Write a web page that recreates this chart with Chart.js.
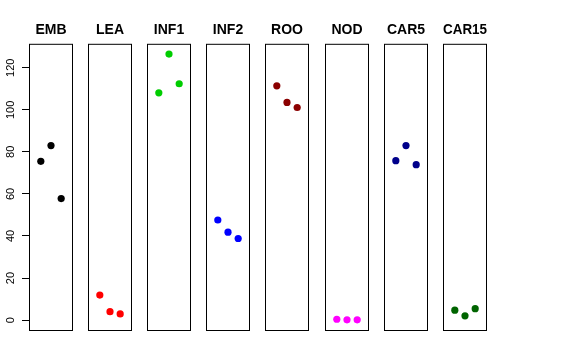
<!DOCTYPE html>
<html>
<head>
<meta charset="utf-8">
<script src="https://cdn.jsdelivr.net/npm/chart.js@4/dist/chart.umd.min.js"></script>
<style>
  body { margin: 0; background: #fff; }
  #wrap { position: relative; width: 576px; height: 360px; overflow: hidden; }
  #wrap canvas { position: absolute; top: 0; }
</style>
</head>
<body>
<div id="wrap"></div>
<script>
// Tissue panels, replicate values
const panels = ['EMB', 'LEA', 'INF1', 'INF2', 'ROO', 'NOD', 'CAR5', 'CAR15'];
const replicates = [1, 2, 3];
const rep1 = [75.5, 11.9, 108.1, 47.6, 111.4, 0.4, 75.8, 4.7];
const rep2 = [83.0, 4.0, 126.5, 41.8, 103.5, 0.1, 83.0, 2.0];
const rep3 = [57.8, 2.9, 112.4, 38.8, 101.1, 0.1, 73.9, 5.4];
const panelColors = ['#000000', '#ff0000', '#00cd00', '#0000ff', '#8b0000', '#ff00ff', '#00008b', '#006400'];
const yTicks = [0, 20, 40, 60, 80, 100, 120];

const fontFamily = '"Liberation Sans", Arial, Helvetica, sans-serif';
const firstLeft = 29;
const pitch = 59.1;
const boxWidth = 44;
const side = 7;

// draws the frame round each panel
const boxPlugin = {
    id: 'box',
    afterDraw: function(chart) {
        const a = chart.chartArea;
        const ctx = chart.ctx;
        ctx.save();
        ctx.strokeStyle = '#000';
        ctx.lineWidth = 1;
        ctx.strokeRect(a.left + 0.5, a.top + 0.5, a.right - a.left - 1, a.bottom - a.top - 1);
        ctx.restore();
    }
};

// rotated y tick labels, placed from the scale
const yLabelPlugin = {
    id: 'yLabels',
    afterDraw: function(chart) {
        const scale = chart.scales.y;
        if (!scale.options.display) return;
        const ctx = chart.ctx;
        ctx.save();
        ctx.fillStyle = '#000';
        ctx.font = '11px ' + fontFamily;
        ctx.textAlign = 'center';
        ctx.textBaseline = 'middle';
        scale.ticks.forEach(function(t) {
            const y = scale.getPixelForValue(t.value);
            ctx.save();
            ctx.translate(11, y);
            ctx.rotate(-Math.PI / 2);
            ctx.fillText(String(t.value), 0, 0);
            ctx.restore();
        });
        ctx.restore();
    }
};

const wrap = document.getElementById('wrap');

panels.forEach(function(name, i) {
    const panelLeft = Math.round(firstLeft + i * pitch);
    const first = i === 0;
    const canvas = document.createElement('canvas');
    const cLeft = first ? 0 : panelLeft - side;
    const cWidth = first ? panelLeft + boxWidth + side : boxWidth + 2 * side;
    canvas.width = cWidth;
    canvas.height = 360;
    canvas.style.left = cLeft + 'px';
    canvas.style.width = cWidth + 'px';
    canvas.style.height = '360px';
    wrap.appendChild(canvas);

    const values = [rep1[i], rep2[i], rep3[i]];

    const yScale = {
        type: 'linear',
        min: -5.2,
        max: 131.4,
        display: first,
        border: { display: false },
        grid: {
            drawOnChartArea: false,
            drawTicks: true,
            tickLength: 7,
            color: '#000'
        },
        ticks: { display: false }
    };
    if (first) {
        yScale.afterFit = function(scale) { scale.width = firstLeft; };
        yScale.afterBuildTicks = function(scale) {
            scale.ticks = yTicks.map(function(v) { return { value: v }; });
        };
    }

    new Chart(canvas.getContext('2d'), {
        type: 'scatter',
        data: {
            datasets: [{
                data: replicates.map(function(r, j) { return { x: r, y: values[j] }; }),
                backgroundColor: panelColors[i],
                borderColor: panelColors[i],
                pointRadius: 3.6,
                pointBorderWidth: 0
            }]
        },
        options: {
            responsive: false,
            animation: false,
            layout: {
                padding: { left: first ? 0 : side, right: side, top: 0, bottom: 29 }
            },
            scales: {
                x: {
                    type: 'linear',
                    min: -0.16,
                    max: 4.16,
                    display: false
                },
                y: yScale
            },
            plugins: {
                legend: { display: false },
                tooltip: { enabled: false },
                title: {
                    display: true,
                    text: name,
                    fullSize: false,
                    color: '#000',
                    font: { family: fontFamily, size: 14, weight: 'bold' },
                    padding: { top: 22, bottom: 5 }
                }
            }
        },
        plugins: [boxPlugin, yLabelPlugin]
    });
});
</script>
</body>
</html>
